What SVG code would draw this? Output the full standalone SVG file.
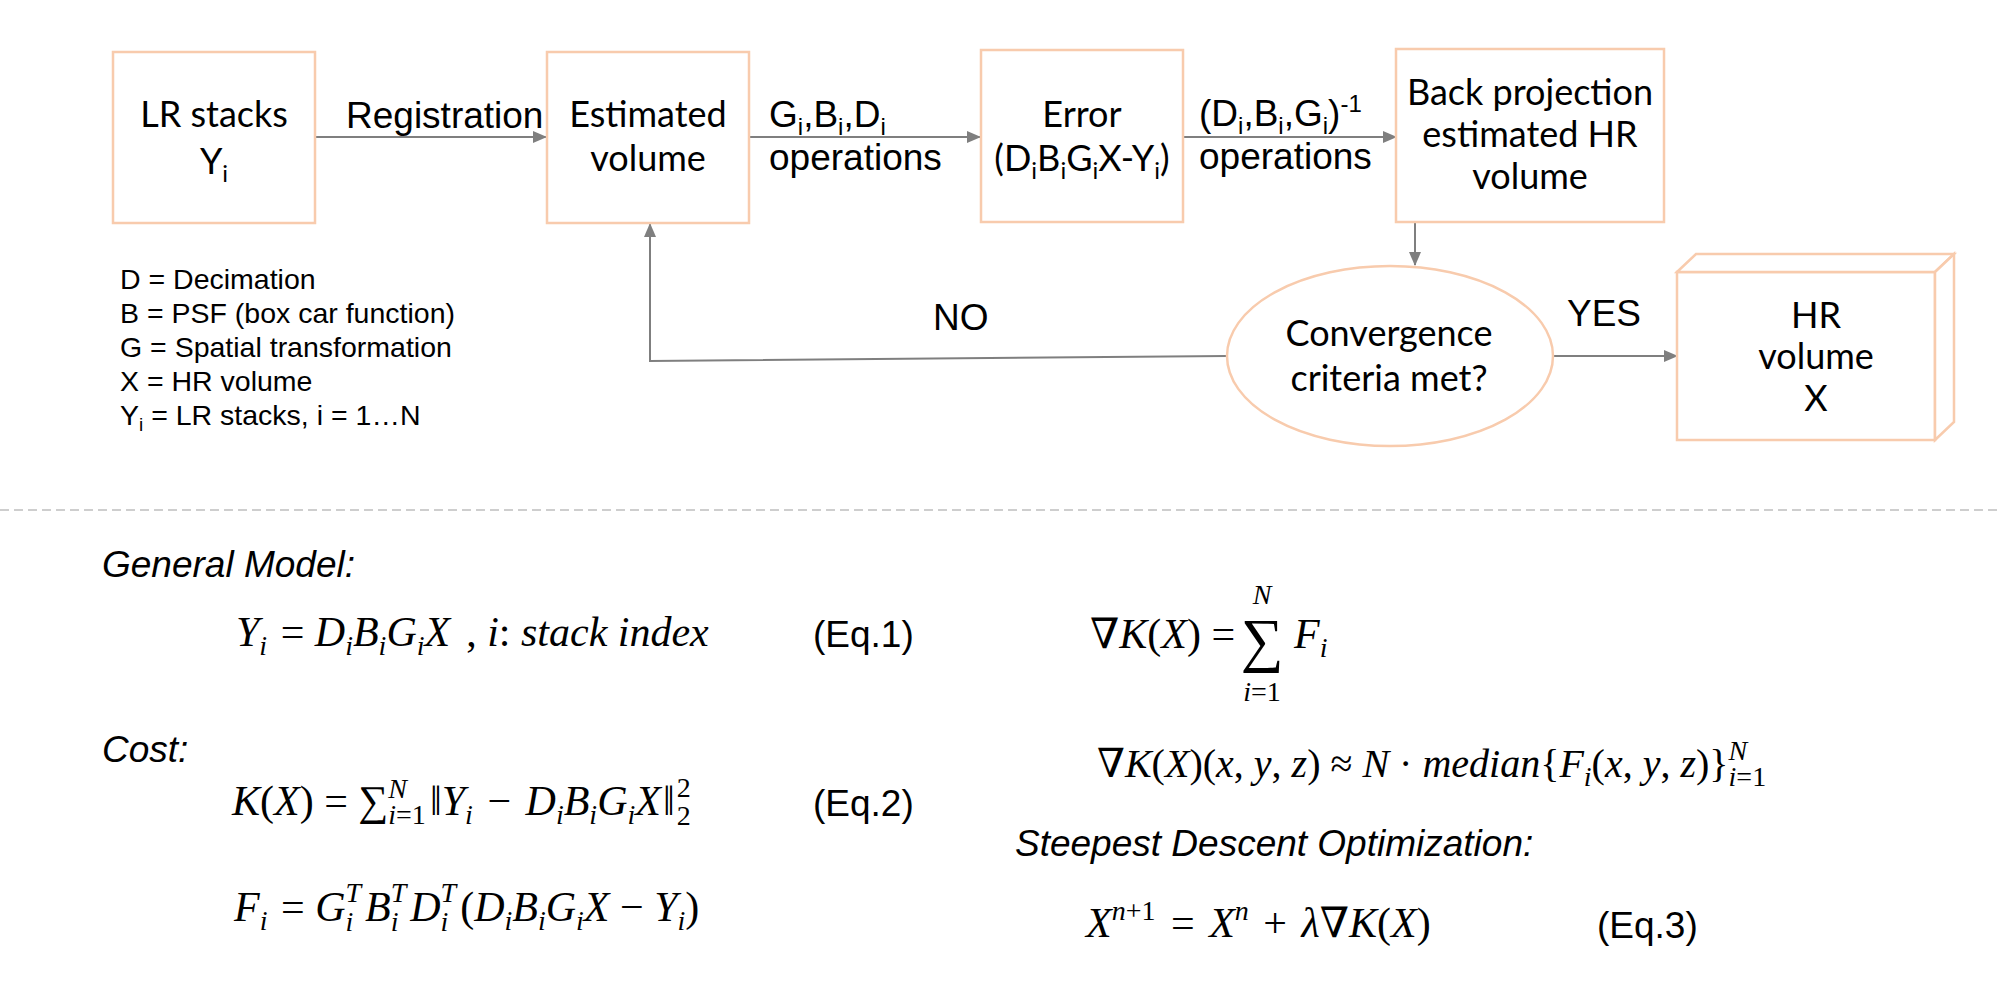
<svg xmlns="http://www.w3.org/2000/svg" width="1999" height="987" viewBox="0 0 1999 987">
<style>
.bx{fill:#fff;stroke:#f8cbad;stroke-width:2.5}
.cn{fill:none;stroke:#7f7f7f;stroke-width:2}
.c{font-family:Lato,"Open Sans",sans-serif;font-size:36px;fill:#000;text-anchor:middle}
.a{font-family:"Liberation Sans",Arial,sans-serif;font-size:37px;fill:#000}
.lg{font-family:"Liberation Sans",Arial,sans-serif;font-size:28.5px;fill:#000}
.h{font-family:"Liberation Sans",Arial,sans-serif;font-size:37px;font-style:italic;fill:#000}
.m{font-family:"Liberation Serif","DejaVu Serif",serif;font-size:42px;font-style:italic;fill:#000}
.m40{font-size:40px}
.u{font-style:normal}
.s{font-size:28px}
.ss{font-size:24px}
</style>
<defs>
<marker id="ah" markerWidth="14" markerHeight="12" refX="13" refY="6" orient="auto" markerUnits="userSpaceOnUse">
<path d="M0,0 L14,6 L0,12 Z" fill="#7f7f7f"/>
</marker>
</defs>

<g id="connectors">
<line class="cn" x1="315" y1="137" x2="546" y2="137" marker-end="url(#ah)"/>
<line class="cn" x1="749" y1="137" x2="980" y2="137" marker-end="url(#ah)"/>
<line class="cn" x1="1183" y1="137" x2="1396" y2="137" marker-end="url(#ah)"/>
<line class="cn" x1="1415" y1="222" x2="1415" y2="265" marker-end="url(#ah)"/>
<polyline class="cn" points="1227,356 650,361 650,224" marker-end="url(#ah)"/>
<line class="cn" x1="1553" y1="356" x2="1677" y2="356" marker-end="url(#ah)"/>
</g>

<g id="edge-labels">
<text class="a" x="346" y="128">Registration</text>
<text class="a" x="769" y="127">G<tspan class="ss" dy="8">i</tspan><tspan dy="-8">,B</tspan><tspan class="ss" dy="8">i</tspan><tspan dy="-8">,D</tspan><tspan class="ss" dy="8">i</tspan></text>
<text class="a" x="769" y="170">operations</text>
<text class="a" x="1199" y="126">(D<tspan class="ss" dy="8">i</tspan><tspan dy="-8">,B</tspan><tspan class="ss" dy="8">i</tspan><tspan dy="-8">,G</tspan><tspan class="ss" dy="8">i</tspan><tspan dy="-8">)</tspan><tspan class="ss" dy="-14">-1</tspan></text>
<text class="a" x="1199" y="169">operations</text>
<text class="a" x="933" y="330">NO</text>
<text class="a" x="1567" y="326">YES</text>
</g>

<g id="lr-stacks">
<rect class="bx" x="113" y="52" width="202" height="171"/>
<text class="c" x="214" y="127">LR stacks</text>
<text class="c" x="214" y="174">Y<tspan class="ss" dy="8">i</tspan></text>
</g>

<g id="estimated-volume">
<rect class="bx" x="547" y="52" width="202" height="171"/>
<text class="c" x="648" y="127">Estimated</text>
<text class="c" x="648" y="171">volume</text>
</g>

<g id="error">
<rect class="bx" x="981" y="50" width="202" height="172"/>
<text class="c" x="1082" y="127">Error</text>
<text class="c" x="1082" y="171">(D<tspan class="ss" dy="8">i</tspan><tspan dy="-8">B</tspan><tspan class="ss" dy="8">i</tspan><tspan dy="-8">G</tspan><tspan class="ss" dy="8">i</tspan><tspan dy="-8">X-Y</tspan><tspan class="ss" dy="8">i</tspan><tspan dy="-8">)</tspan></text>
</g>

<g id="back-projection">
<rect class="bx" x="1396" y="49" width="268" height="173"/>
<text class="c" x="1530" y="105">Back projection</text>
<text class="c" x="1530" y="147">estimated HR</text>
<text class="c" x="1530" y="189">volume</text>
</g>

<g id="convergence">
<ellipse class="bx" cx="1390" cy="356" rx="163" ry="90"/>
<text class="c" x="1389" y="346">Convergence</text>
<text class="c" x="1389" y="391">criteria met?</text>
</g>

<g id="hr-volume">
<rect class="bx" x="1677" y="272" width="258" height="168"/>
<polygon class="bx" points="1677,272 1696,254 1954,254 1935,272"/>
<polygon class="bx" points="1935,272 1954,254 1954,422 1935,440"/>
<text class="c" x="1816" y="328">HR</text>
<text class="c" x="1816" y="369">volume</text>
<text class="c" x="1816" y="411">X</text>
</g>

<g id="legend">
<text class="lg" x="120" y="289">D = Decimation</text>
<text class="lg" x="120" y="323">B = PSF (box car function)</text>
<text class="lg" x="120" y="357">G = Spatial transformation</text>
<text class="lg" x="120" y="391">X = HR volume</text>
<text class="lg" x="120" y="425">Y<tspan style="font-size:19px" dy="6">i</tspan><tspan dy="-6"> = LR stacks,</tspan><tspan dx="8">i = 1…N</tspan></text>
</g>

<line x1="0" y1="510" x2="1999" y2="510" stroke="#bfbfbf" stroke-width="1.5" stroke-dasharray="9 5"/>

<g id="equations">
<text class="h" x="102" y="577">General Model:</text>
<text class="h" x="102" y="762">Cost:</text>
<text class="h" x="1015" y="856">Steepest Descent Optimization:</text>

<text class="m" x="236" y="646">Y<tspan class="s" dy="9">i</tspan><tspan class="u" dx="3" dy="-9"> = </tspan>D<tspan class="s" dy="9">i</tspan><tspan dy="-9">B</tspan><tspan class="s" dy="9">i</tspan><tspan dy="-9">G</tspan><tspan class="s" dy="9">i</tspan><tspan dy="-9">X</tspan><tspan class="u" dx="16">, </tspan>i<tspan class="u">: </tspan>stack index</text>
<text class="a" x="813" y="647">(Eq.1)</text>

<text class="m" x="232" y="815">K<tspan class="u">(</tspan>X<tspan class="u">) = ∑</tspan><tspan class="s" dy="9">i</tspan><tspan class="s u">=1</tspan><tspan class="s" dx="-37.6" dy="-26">N</tspan><tspan class="u" dx="23" dy="17">‖</tspan>Y<tspan class="s" dy="9">i</tspan><tspan class="u" dx="4" dy="-9"> − </tspan><tspan dx="4">D</tspan><tspan class="s" dy="9">i</tspan><tspan dy="-9">B</tspan><tspan class="s" dy="9">i</tspan><tspan dy="-9">G</tspan><tspan class="s" dy="9">i</tspan><tspan dy="-9">X</tspan><tspan class="u" dx="2">‖</tspan><tspan class="s u" dx="2" dy="10">2</tspan><tspan class="s u" dx="-14" dy="-28">2</tspan></text>
<text class="a" x="813" y="816">(Eq.2)</text>

<text class="m" x="234" y="921">F<tspan class="s" dy="9">i</tspan><tspan class="u" dx="3" dy="-9"> = </tspan>G<tspan class="s" dy="10">i</tspan><tspan class="s" dx="-7.8" dy="-29">T</tspan><tspan dx="4" dy="19">B</tspan><tspan class="s" dy="10">i</tspan><tspan class="s" dx="-7.8" dy="-29">T</tspan><tspan dx="4" dy="19">D</tspan><tspan class="s" dy="10">i</tspan><tspan class="s" dx="-7.8" dy="-29">T</tspan><tspan class="u" dx="4" dy="19">(</tspan>D<tspan class="s" dy="9">i</tspan><tspan dy="-9">B</tspan><tspan class="s" dy="9">i</tspan><tspan dy="-9">G</tspan><tspan class="s" dy="9">i</tspan><tspan dy="-9">X</tspan><tspan class="u"> − </tspan>Y<tspan class="s" dy="9">i</tspan><tspan class="u" dy="-9">)</tspan></text>

<text class="m" x="1090" y="648">∇K<tspan class="u">(</tspan>X<tspan class="u">) =</tspan></text>
<text class="m u" x="1262" y="660" style="font-size:60px;font-style:normal" text-anchor="middle">∑</text>
<text class="m" x="1262" y="604" style="font-size:28px" text-anchor="middle">N</text>
<text class="m" x="1262" y="701" style="font-size:28px" text-anchor="middle">i<tspan class="u">=1</tspan></text>
<text class="m" x="1294" y="648">F<tspan class="s" dy="9">i</tspan></text>

<text class="m m40" x="1097" y="777">∇K<tspan class="u">(</tspan>X<tspan class="u">)(</tspan>x<tspan class="u">, </tspan>y<tspan class="u">, </tspan>z<tspan class="u">) ≈ </tspan>N<tspan class="u"> · </tspan>median<tspan class="u">{</tspan>F<tspan class="s" dy="9">i</tspan><tspan class="u" dy="-9">(</tspan>x<tspan class="u">, </tspan>y<tspan class="u">, </tspan>z<tspan class="u">)}</tspan><tspan class="s" dy="9">i</tspan><tspan class="s u">=1</tspan><tspan class="s" dx="-37.6" dy="-26">N</tspan></text>

<text class="m" x="1086" y="937">X<tspan class="s" dy="-17">n<tspan class="u">+1</tspan></tspan><tspan class="u" dx="5" dy="17"> = </tspan><tspan dx="4">X</tspan><tspan class="s" dy="-17">n</tspan><tspan class="u" dx="4" dy="17"> + </tspan><tspan dx="4">λ∇K</tspan><tspan class="u">(</tspan>X<tspan class="u">)</tspan></text>
<text class="a" x="1597" y="938">(Eq.3)</text>
</g>
</svg>
